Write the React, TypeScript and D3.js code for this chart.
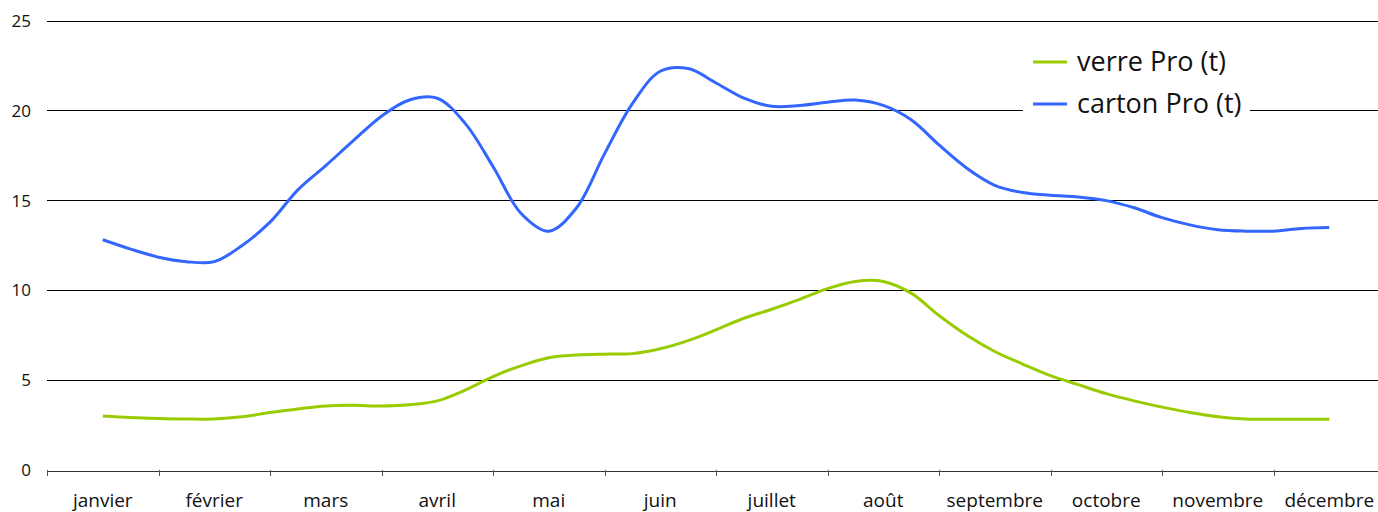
import React, { useEffect, useRef } from "react";
import * as d3 from "d3";

// month labels on the x axis
const months = [
  "janvier",
  "février",
  "mars",
  "avril",
  "mai",
  "juin",
  "juillet",
  "août",
  "septembre",
  "octobre",
  "novembre",
  "décembre",
];

// readings taken every quarter of a month, from janvier (0) to décembre (11)
const positions = d3.range(0, 11.01, 0.25);

const verreValues = [
  3.0, 2.92, 2.87, 2.84, 2.84, 2.96, 3.2, 3.4, 3.57, 3.6, 3.56, 3.63, 3.85,
  4.45, 5.2, 5.8, 6.25, 6.4, 6.45, 6.48, 6.75, 7.2, 7.8, 8.45, 8.95, 9.5, 10.1,
  10.5, 10.5, 9.85, 8.6, 7.5, 6.6, 5.9, 5.25, 4.75, 4.25, 3.85, 3.5, 3.2, 2.97,
  2.84, 2.82, 2.82, 2.82,
];

const cartonValues = [
  12.82, 12.3, 11.85, 11.6, 11.6, 12.5, 13.8, 15.6, 16.95, 18.35, 19.7, 20.6,
  20.7, 19.3, 16.9, 14.3, 13.3, 14.6, 17.6, 20.4, 22.2, 22.35, 21.55, 20.7,
  20.25, 20.3, 20.48, 20.6, 20.3, 19.5, 18.1, 16.8, 15.85, 15.45, 15.3, 15.2,
  15.0, 14.6, 14.05, 13.65, 13.38, 13.3, 13.3, 13.45, 13.5,
];

const yTicks = [0, 5, 10, 15, 20, 25];

const series = [
  { name: "verre Pro (t)", color: "#99cc00", values: verreValues },
  { name: "carton Pro (t)", color: "#3366ff", values: cartonValues },
];

const width = 1378;
const height = 512;
const font = "'Open Sans', sans-serif";

const App = () => {
  const svgRef = useRef(null);

  useEffect(() => {
    const margin = { top: 21, right: -7, bottom: 42, left: 47 };
    const innerWidth = width - margin.left - margin.right;
    const innerHeight = height - margin.top - margin.bottom;

    const svg = d3.select(svgRef.current);
    svg.selectAll("*").remove();

    const xBand = d3.scaleBand().domain(months).range([0, innerWidth]);
    const xScale = d3
      .scaleLinear()
      .domain([0, 11])
      .range([xBand.bandwidth() / 2, innerWidth - xBand.bandwidth() / 2]);
    const yScale = d3.scaleLinear().domain([0, 25]).range([innerHeight, 0]);

    const g = svg
      .append("g")
      .attr("transform", `translate(${margin.left}, ${margin.top})`);

    // gridlines, snapped to whole pixels so they stay crisp black
    g.selectAll(".grid")
      .data(yTicks.filter((t) => t > 0))
      .join("line")
      .attr("x1", 0)
      .attr("x2", innerWidth)
      .attr("y1", (d) => Math.floor(yScale(d)) + 0.5)
      .attr("y2", (d) => Math.floor(yScale(d)) + 0.5)
      .attr("stroke", "#000")
      .attr("stroke-width", 1)
      .attr("shape-rendering", "crispEdges");

    // y labels
    g.selectAll(".ylab")
      .data(yTicks)
      .join("text")
      .attr("x", -16)
      .attr("y", (d) => yScale(d))
      .attr("dy", "0.35em")
      .attr("text-anchor", "end")
      .style("font-family", font)
      .style("font-size", "17px")
      .attr("fill", "#111")
      .text((d) => d);

    // x axis
    const xAxis = g
      .append("g")
      .attr("transform", `translate(0, ${Math.round(innerHeight) + 0.5})`)
      .call(d3.axisBottom(xBand).tickSize(0).tickPadding(23));
    xAxis
      .select(".domain")
      .attr("stroke", "#333")
      .attr("shape-rendering", "crispEdges");
    xAxis
      .selectAll("text")
      .style("font-family", font)
      .style("font-size", "19px")
      .attr("fill", "#111");

    // tick marks at band boundaries
    g.selectAll(".xtick")
      .data(months)
      .join("line")
      .attr("x1", (d) => Math.round(xBand(d)) + 0.5)
      .attr("x2", (d) => Math.round(xBand(d)) + 0.5)
      .attr("y1", innerHeight)
      .attr("y2", innerHeight + 6)
      .attr("stroke", "#555")
      .attr("shape-rendering", "crispEdges");

    // lines
    const line = d3
      .line()
      .x((d) => xScale(d[0]))
      .y((d) => yScale(d[1]))
      .curve(d3.curveCatmullRom.alpha(0.5));

    series.forEach((s) => {
      g.append("path")
        .datum(positions.map((p, i) => [p, s.values[i]]))
        .attr("fill", "none")
        .attr("stroke", s.color)
        .attr("stroke-width", 3)
        .attr("stroke-linejoin", "round")
        .attr("d", line);
    });

    // legend
    const legend = svg.append("g").attr("transform", "translate(1023, 38)");
    legend
      .append("rect")
      .attr("width", 227)
      .attr("height", 86)
      .attr("fill", "#fff");
    series.forEach((s, i) => {
      const row = legend
        .append("g")
        .attr("transform", `translate(0, ${24 + i * 42})`);
      row
        .append("line")
        .attr("x1", 10)
        .attr("x2", 44)
        .attr("stroke", s.color)
        .attr("stroke-width", 3);
      row
        .append("text")
        .attr("x", 54)
        .attr("dy", "0.35em")
        .style("font-family", font)
        .style("font-size", "27px")
        .attr("fill", "#111")
        .text(s.name);
    });
  }, []);

  return (
    <svg
      ref={svgRef}
      width={width}
      height={height}
      style={{ position: "absolute", left: 0, top: 0, background: "#fff" }}
    ></svg>
  );
};

export default App;
